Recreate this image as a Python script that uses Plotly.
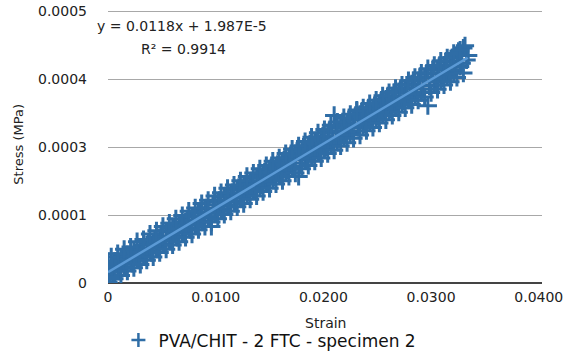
import plotly.graph_objects as go

# ---- data ----
strain_a = [0.0000, 0.0003, 0.0006, 0.0009, 0.0012, 0.0015, 0.0018, 0.0021, 0.0024, 0.0027,
            0.0030, 0.0033, 0.0036, 0.0039, 0.0042, 0.0045, 0.0048, 0.0051, 0.0054, 0.0057,
            0.0060, 0.0063, 0.0066, 0.0069, 0.0072, 0.0075, 0.0078, 0.0081, 0.0084, 0.0087,
            0.0090, 0.0093, 0.0096, 0.0099, 0.0102, 0.0105, 0.0108, 0.0111, 0.0114, 0.0117,
            0.0120, 0.0123, 0.0126, 0.0129, 0.0132, 0.0135, 0.0138, 0.0141, 0.0144, 0.0147,
            0.0150, 0.0153, 0.0156, 0.0159, 0.0162, 0.0165, 0.0168, 0.0171, 0.0174, 0.0177,
            0.0180, 0.0183, 0.0186, 0.0189, 0.0192, 0.0195, 0.0198, 0.0201, 0.0204, 0.0207,
            0.0210, 0.0213, 0.0216, 0.0219, 0.0222, 0.0225, 0.0228, 0.0231, 0.0234, 0.0237,
            0.0240, 0.0243, 0.0246, 0.0249, 0.0252, 0.0255, 0.0258, 0.0261, 0.0264, 0.0267,
            0.0270, 0.0273, 0.0276, 0.0279, 0.0282, 0.0285, 0.0288, 0.0291, 0.0294, 0.0297,
            0.0300, 0.0303, 0.0306, 0.0309, 0.0312, 0.0315, 0.0318, 0.0321, 0.0324, 0.0327,
            0.0330, 0.0333]
stress_a = [0.000002, 0.000038, 0.000040, 0.000022, 0.000046, 0.000030, 0.000052, 0.000038, 0.000058, 0.000044,
            0.000064, 0.000052, 0.000070, 0.000058, 0.000076, 0.000066, 0.000084, 0.000070, 0.000096, 0.000078,
            0.000102, 0.000086, 0.000108, 0.000092, 0.000112, 0.000100, 0.000122, 0.000106, 0.000128, 0.000112,
            0.000136, 0.000120, 0.000104, 0.000128, 0.000150, 0.000134, 0.000158, 0.000142, 0.000164, 0.000150,
            0.000172, 0.000156, 0.000178, 0.000162, 0.000186, 0.000170, 0.000194, 0.000176, 0.000200, 0.000184,
            0.000208, 0.000190, 0.000214, 0.000198, 0.000222, 0.000204, 0.000230, 0.000210, 0.000238, 0.000196,
            0.000246, 0.000226, 0.000252, 0.000232, 0.000258, 0.000240, 0.000266, 0.000246, 0.000276, 0.000254,
            0.000308, 0.000262, 0.000288, 0.000268, 0.000294, 0.000276, 0.000302, 0.000318, 0.000310, 0.000288,
            0.000316, 0.000296, 0.000322, 0.000302, 0.000330, 0.000310, 0.000338, 0.000316, 0.000344, 0.000324,
            0.000352, 0.000330, 0.000358, 0.000336, 0.000366, 0.000344, 0.000372, 0.000350, 0.000378, 0.000326,
            0.000386, 0.000364, 0.000394, 0.000372, 0.000400, 0.000380, 0.000408, 0.000388, 0.000418, 0.000398,
            0.000432, 0.000410]

strain_b = [0.00015, 0.00045, 0.00075, 0.00105, 0.00135, 0.00165, 0.00195, 0.00225, 0.00255, 0.00285,
            0.00315, 0.00345, 0.00375, 0.00405, 0.00435, 0.00465, 0.00495, 0.00525, 0.00555, 0.00585,
            0.00615, 0.00645, 0.00675, 0.00705, 0.00735, 0.00765, 0.00795, 0.00825, 0.00855, 0.00885,
            0.00915, 0.00945, 0.00975, 0.01005, 0.01035, 0.01065, 0.01095, 0.01125, 0.01155, 0.01185,
            0.01215, 0.01245, 0.01275, 0.01305, 0.01335, 0.01365, 0.01395, 0.01425, 0.01455, 0.01485,
            0.01515, 0.01545, 0.01575, 0.01605, 0.01635, 0.01665, 0.01695, 0.01725, 0.01755, 0.01785,
            0.01815, 0.01845, 0.01875, 0.01905, 0.01935, 0.01965, 0.01995, 0.02025, 0.02055, 0.02085,
            0.02115, 0.02145, 0.02175, 0.02205, 0.02235, 0.02265, 0.02295, 0.02325, 0.02355, 0.02385,
            0.02415, 0.02445, 0.02475, 0.02505, 0.02535, 0.02565, 0.02595, 0.02625, 0.02655, 0.02685,
            0.02715, 0.02745, 0.02775, 0.02805, 0.02835, 0.02865, 0.02895, 0.02925, 0.02955, 0.02985,
            0.03015, 0.03045, 0.03075, 0.03105, 0.03135, 0.03165, 0.03195, 0.03225, 0.03255, 0.03285,
            0.03315, 0.03345]
stress_b = [0.000024, 0.000008, 0.000040, 0.000024, 0.000044, 0.000028, 0.000050, 0.000036, 0.000056, 0.000042,
            0.000062, 0.000050, 0.000072, 0.000056, 0.000080, 0.000064, 0.000086, 0.000072, 0.000094, 0.000080,
            0.000100, 0.000084, 0.000106, 0.000094, 0.000116, 0.000098, 0.000122, 0.000108, 0.000130, 0.000114,
            0.000138, 0.000122, 0.000144, 0.000130, 0.000152, 0.000136, 0.000160, 0.000144, 0.000166, 0.000150,
            0.000176, 0.000158, 0.000182, 0.000166, 0.000188, 0.000172, 0.000196, 0.000180, 0.000204, 0.000186,
            0.000212, 0.000194, 0.000218, 0.000200, 0.000226, 0.000208, 0.000234, 0.000214, 0.000242, 0.000220,
            0.000250, 0.000228, 0.000256, 0.000236, 0.000262, 0.000242, 0.000270, 0.000250, 0.000280, 0.000258,
            0.000286, 0.000266, 0.000292, 0.000272, 0.000300, 0.000280, 0.000306, 0.000286, 0.000314, 0.000292,
            0.000320, 0.000300, 0.000326, 0.000306, 0.000334, 0.000314, 0.000342, 0.000320, 0.000350, 0.000328,
            0.000356, 0.000334, 0.000364, 0.000340, 0.000372, 0.000348, 0.000378, 0.000356, 0.000384, 0.000362,
            0.000392, 0.000370, 0.000398, 0.000376, 0.000406, 0.000384, 0.000414, 0.000392, 0.000426, 0.000404,
            0.000436, 0.000418]

# upper edge of the band
strain_c = [0.0003, 0.0009, 0.0015, 0.0021, 0.0027, 0.0033, 0.0039, 0.0045, 0.0051, 0.0057,
            0.0063, 0.0069, 0.0075, 0.0081, 0.0087, 0.0093, 0.0099, 0.0105, 0.0111, 0.0117,
            0.0123, 0.0129, 0.0135, 0.0141, 0.0147, 0.0153, 0.0159, 0.0165, 0.0171, 0.0177,
            0.0183, 0.0189, 0.0195, 0.0201, 0.0207, 0.0213, 0.0219, 0.0225, 0.0231, 0.0237,
            0.0243, 0.0249, 0.0255, 0.0261, 0.0267, 0.0273, 0.0279, 0.0285, 0.0291, 0.0297,
            0.0303, 0.0309, 0.0315, 0.0321, 0.0327]
stress_c = [0.000048, 0.000054, 0.000062, 0.000066, 0.000076, 0.000080, 0.000090, 0.000096, 0.000104, 0.000110,
            0.000118, 0.000124, 0.000132, 0.000138, 0.000146, 0.000152, 0.000160, 0.000166, 0.000174, 0.000180,
            0.000188, 0.000196, 0.000202, 0.000210, 0.000216, 0.000224, 0.000230, 0.000238, 0.000246, 0.000252,
            0.000260, 0.000268, 0.000276, 0.000282, 0.000290, 0.000296, 0.000304, 0.000310, 0.000316, 0.000322,
            0.000330, 0.000336, 0.000344, 0.000350, 0.000358, 0.000364, 0.000372, 0.000378, 0.000386, 0.000394,
            0.000400, 0.000408, 0.000414, 0.000422, 0.000428]

# lower edge of the band
strain_d = [0.0006, 0.0012, 0.0018, 0.0024, 0.0030, 0.0036, 0.0042, 0.0048, 0.0054, 0.0060,
            0.0066, 0.0072, 0.0078, 0.0084, 0.0090, 0.0096, 0.0102, 0.0108, 0.0114, 0.0120,
            0.0126, 0.0132, 0.0138, 0.0144, 0.0150, 0.0156, 0.0162, 0.0168, 0.0174, 0.0180,
            0.0186, 0.0192, 0.0198, 0.0204, 0.0210, 0.0216, 0.0222, 0.0228, 0.0234, 0.0240,
            0.0246, 0.0252, 0.0258, 0.0264, 0.0270, 0.0276, 0.0282, 0.0288, 0.0294, 0.0300,
            0.0306, 0.0312, 0.0318, 0.0324, 0.0330]
stress_d = [0.000008, 0.000014, 0.000022, 0.000028, 0.000034, 0.000042, 0.000048, 0.000056, 0.000062, 0.000070,
            0.000076, 0.000084, 0.000090, 0.000098, 0.000104, 0.000112, 0.000118, 0.000126, 0.000132, 0.000140,
            0.000146, 0.000154, 0.000160, 0.000168, 0.000174, 0.000182, 0.000188, 0.000196, 0.000202, 0.000210,
            0.000216, 0.000224, 0.000230, 0.000238, 0.000244, 0.000252, 0.000258, 0.000266, 0.000272, 0.000280,
            0.000286, 0.000294, 0.000300, 0.000308, 0.000314, 0.000322, 0.000328, 0.000336, 0.000342, 0.000350,
            0.000356, 0.000364, 0.000370, 0.000378, 0.000386]

strain_extra = [0.0000, 0.0000, 0.0001, 0.0002, 0.0004]
stress_extra = [0.000040, 0.000020, 0.000000, 0.000012, 0.000030]

# linear trendline reported on the chart
slope = 0.0118
intercept = 1.987e-5
trend_strain = [0.0, 0.0334]

x_tickvals = [0.0, 0.01, 0.02, 0.03, 0.04]
x_ticktext = ["0", "0.0100", "0.0200", "0.0300", "0.0400"]
y_tickvals = [0.0, 0.000125, 0.00025, 0.000375, 0.0005]
y_ticktext = ["0", "0.0001", "0.0003", "0.0004", "0.0005"]

series_name = "PVA/CHIT - 2 FTC - specimen 2"
equation_text = "y = 0.0118x + 1.987E-5"
r2_text = "R² = 0.9914"

FONT = "DejaVu Sans"
MARK = "#2f6da6"
TREND = "#5b9ad6"
TXT = "#222222"

strain_all = strain_a + strain_b + strain_c + strain_d + strain_extra
stress_all = stress_a + stress_b + stress_c + stress_d + stress_extra

fig = go.Figure()
fig.add_trace(go.Scatter(
    x=strain_all, y=stress_all, mode="markers", name=series_name, showlegend=False,
    marker=dict(symbol="cross-thin", size=13, color=MARK,
                line=dict(color=MARK, width=3)),
))
fig.add_trace(go.Scatter(
    x=trend_strain, y=[slope * v + intercept for v in trend_strain],
    mode="lines", line=dict(color=TREND, width=2.5), showlegend=False,
))
# legend entry (smaller symbol, as in the reference key)
fig.add_trace(go.Scatter(
    x=[None], y=[None], mode="markers", name=series_name, showlegend=True,
    marker=dict(symbol="cross-thin", size=10, color=MARK,
                line=dict(color=MARK, width=2.5)),
))

fig.update_layout(
    width=571, height=360,
    margin=dict(l=108, r=29, t=9, b=77, autoexpand=False),
    paper_bgcolor="white", plot_bgcolor="white",
    font=dict(family=FONT, size=14, color=TXT),
    showlegend=True,
    legend=dict(orientation="h", x=0.024, xanchor="left", y=-0.21, yanchor="middle",
                font=dict(size=17, color="#111111"),
                bgcolor="rgba(0,0,0,0)"),
    xaxis=dict(range=[0, 0.0403], tickvals=x_tickvals, ticktext=x_ticktext,
               showgrid=False, zeroline=False, showline=False, ticks="",
               tickfont=dict(size=14, color=TXT), ticklabelstandoff=4),
    yaxis=dict(range=[0, 0.0005037], tickvals=y_tickvals, ticktext=y_ticktext,
               showgrid=True, gridcolor="#a8a8a8", gridwidth=1,
               zeroline=True, zerolinecolor="#444444", zerolinewidth=2,
               showline=False, ticks="", tickfont=dict(size=14, color=TXT),
               ticklabelstandoff=20),
    annotations=[
        dict(text="Strain", xref="paper", yref="paper", x=0.5, y=-0.147,
             xanchor="center", yanchor="middle", showarrow=False,
             font=dict(size=14, color=TXT)),
        dict(text="Stress (MPa)", xref="paper", yref="paper", x=-0.205, y=0.505,
             xanchor="center", yanchor="middle", textangle=-90, showarrow=False,
             font=dict(size=13, color=TXT)),
        dict(text=equation_text, xref="paper", yref="paper", x=0.1705, y=0.937,
             xanchor="center", yanchor="middle", showarrow=False,
             font=dict(size=14, color=TXT)),
        dict(text=r2_text, xref="paper", yref="paper", x=0.173, y=0.853,
             xanchor="center", yanchor="middle", showarrow=False,
             font=dict(size=14, color=TXT)),
    ],
)

fig.write_html("out.html")
